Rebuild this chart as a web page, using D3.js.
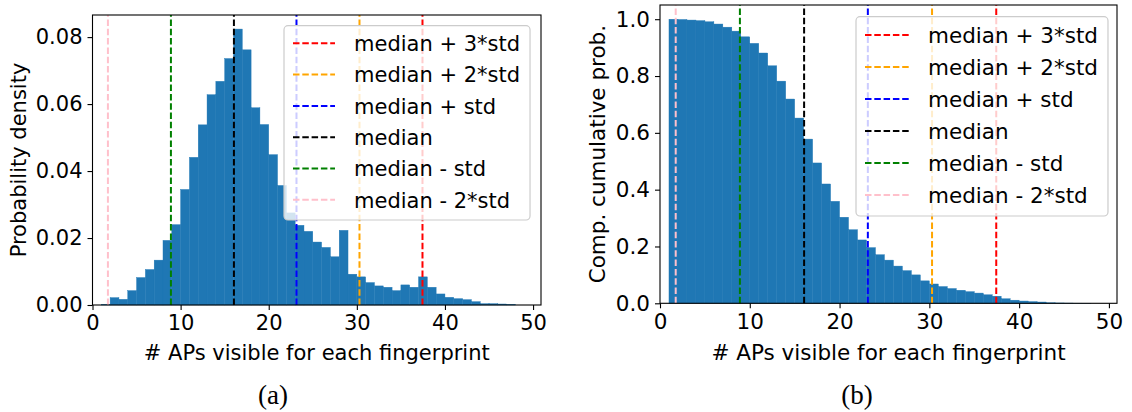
<!DOCTYPE html>
<html>
<head>
<meta charset="utf-8">
<script src="https://cdn.jsdelivr.net/npm/d3@7"></script>
<style>
  html, body { margin: 0; padding: 0; background: #fff; }
  svg { display: block; }
  text { font-family: "DejaVu Sans", sans-serif; fill: #000; }
  text.caption { font-family: "Liberation Serif", "DejaVu Serif", serif; }
</style>
</head>
<body>
<svg id="fig" width="1132" height="412"></svg>
<script>
// Histogram bins: bin k covers [k, k+1) access points
const binStarts = d3.range(1, 48);

// (a) probability density per bin
const densityValues = [
  0.0002, 0.0022, 0.0017, 0.0043, 0.0082, 0.0106, 0.0134, 0.0193, 0.0240, 0.0345,
  0.0441, 0.0538, 0.0628, 0.0668, 0.0736, 0.0824, 0.0762, 0.0589, 0.0539, 0.0449,
  0.0357, 0.0275, 0.0238, 0.0220, 0.0188, 0.0172, 0.0144, 0.0223, 0.0092, 0.0084,
  0.0067, 0.0057, 0.0053, 0.0043, 0.0060, 0.0053, 0.0084, 0.0053, 0.0033, 0.0023,
  0.0019, 0.0016, 0.0010, 0.0004, 0.0004, 0.0003, 0.0002
];

// (b) complementary cumulative probability per bin
const ccdfValues = [
  1.000, 0.999, 0.997, 0.995, 0.991, 0.983, 0.972, 0.958, 0.938, 0.915,
  0.881, 0.836, 0.782, 0.719, 0.652, 0.578, 0.494, 0.420, 0.359, 0.303,
  0.259, 0.223, 0.196, 0.171, 0.152, 0.131, 0.115, 0.100, 0.079, 0.068,
  0.059, 0.052, 0.046, 0.041, 0.036, 0.030, 0.025, 0.016, 0.011, 0.008,
  0.006, 0.0045, 0.002, 0.0012, 0.0008, 0.0004, 0.0002
];

// Reference lines (median and multiples of the standard deviation)
const refLabels = ["median + 3*std", "median + 2*std", "median + std", "median", "median - std", "median - 2*std"];
const refValues = [37.45, 30.3, 23.15, 16.05, 8.9, 1.75];
const refColors = ["red", "orange", "blue", "black", "green", "pink"];

const xTicks = [0, 10, 20, 30, 40, 50];
const yTicksA = [0, 0.02, 0.04, 0.06, 0.08];
const yTicksB = [0, 0.2, 0.4, 0.6, 0.8, 1.0];

const xLabel = "# APs visible for each fingerprint";
const barColor = "#1f77b4";

const svg = d3.select("#fig");

function panel(cfg) {
  const g = svg.append("g");
  const fs = cfg.fontSize;

  const x = d3.scaleLinear().domain([0, 50.9]).range([cfg.left, cfg.right]);
  const y = d3.scaleLinear().domain([0, cfg.yMax]).range([cfg.bottom, cfg.top]);

  // histogram bars
  g.append("g").selectAll("rect")
    .data(cfg.values.map((v, i) => ({ x0: binStarts[i], v })))
    .join("rect")
    .attr("x", d => x(d.x0))
    .attr("width", d => x(d.x0 + 1) - x(d.x0))
    .attr("y", d => y(d.v))
    .attr("height", d => y(0) - y(d.v))
    .attr("fill", barColor)
    .attr("stroke", barColor)
    .attr("stroke-width", 0.4);

  // dashed reference lines spanning the full plot height
  g.append("g").selectAll("line")
    .data(refValues.map((v, i) => ({ v, c: refColors[i] })))
    .join("line")
    .attr("x1", d => x(d.v)).attr("x2", d => x(d.v))
    .attr("y1", cfg.bottom).attr("y2", cfg.top)
    .attr("stroke", d => d.c)
    .attr("stroke-width", 2)
    .attr("stroke-dasharray", "6.5,2.8");

  // axes
  const xAxis = g.append("g")
    .attr("transform", `translate(0,${cfg.bottom})`)
    .call(d3.axisBottom(x).tickValues(xTicks).tickFormat(d3.format("d")).tickSize(5).tickPadding(5));
  const yAxis = g.append("g")
    .attr("transform", `translate(${cfg.left},0)`)
    .call(d3.axisLeft(y).tickValues(cfg.yTicks).tickFormat(d3.format(cfg.yFormat)).tickSize(5).tickPadding(5));
  [xAxis, yAxis].forEach(a => {
    a.select(".domain").remove();
    a.selectAll("line").attr("stroke", "#000").attr("stroke-width", 1.1);
    a.selectAll("text").attr("font-family", "DejaVu Sans").attr("font-size", fs).attr("fill", "#000");
  });

  // frame
  g.append("rect")
    .attr("x", cfg.left).attr("y", cfg.top)
    .attr("width", cfg.right - cfg.left).attr("height", cfg.bottom - cfg.top)
    .attr("fill", "none").attr("stroke", "#000").attr("stroke-width", 1.1);

  // axis titles
  g.append("text")
    .attr("x", (cfg.left + cfg.right) / 2).attr("y", cfg.xLabelY)
    .attr("text-anchor", "middle").attr("font-size", fs)
    .text(xLabel);
  g.append("text")
    .attr("transform", `translate(${cfg.yLabelX},${(cfg.top + cfg.bottom) / 2}) rotate(-90)`)
    .attr("text-anchor", "middle").attr("dy", "0.35em").attr("font-size", fs)
    .text(cfg.yLabel);

  // legend
  const lg = g.append("g");
  const box = lg.append("rect")
    .attr("fill", "#fff").attr("fill-opacity", 0.8)
    .attr("stroke", "#cccccc").attr("stroke-width", 1.2)
    .attr("rx", 4).attr("ry", 4);
  const rows = lg.selectAll("g.row")
    .data(refLabels.map((t, i) => ({ t, c: refColors[i], i })))
    .join("g").attr("class", "row")
    .attr("transform", d => `translate(0,${cfg.legTop + cfg.legFirst + d.i * cfg.legStep})`);
  rows.append("line")
    .attr("x1", cfg.legLeft + 9).attr("x2", cfg.legLeft + 9 + cfg.sampleLen)
    .attr("stroke", d => d.c).attr("stroke-width", 2)
    .attr("stroke-dasharray", "6.5,2.8");
  const texts = rows.append("text")
    .attr("x", cfg.legLeft + 9 + cfg.sampleLen + cfg.textGap)
    .attr("dy", "0.37em").attr("font-size", fs)
    .text(d => d.t);
  let maxW = 0;
  texts.each(function () { maxW = Math.max(maxW, this.getComputedTextLength()); });
  const legW = 9 + cfg.sampleLen + cfg.textGap + maxW + 10;
  box.attr("x", cfg.legLeft).attr("y", cfg.legTop)
    .attr("width", legW).attr("height", cfg.legHeight);

  // panel caption
  g.append("text")
    .attr("class", "caption")
    .attr("x", cfg.capX).attr("y", 404)
    .attr("text-anchor", "middle")
    .attr("font-size", 27)
    .text(cfg.caption);
}

panel({
  values: densityValues, yMax: 0.0866, yTicks: yTicksA, yFormat: ".2f",
  left: 92.5, right: 541, top: 15, bottom: 305,
  fontSize: 21, yLabel: "Probability density", yLabelX: 19, xLabelY: 360,
  legLeft: 284, legTop: 25.7, legFirst: 17.6, legStep: 31.3, legHeight: 194.3,
  sampleLen: 42, textGap: 19, capX: 273, caption: "(a)"
});

panel({
  values: ccdfValues, yMax: 1.05, yTicks: yTicksB, yFormat: ".1f",
  left: 660, right: 1117, top: 5, bottom: 303.3,
  fontSize: 21.5, yLabel: "Comp. cumulative prob.", yLabelX: 597, xLabelY: 360,
  legLeft: 856, legTop: 16.7, legFirst: 18.3, legStep: 32, legHeight: 199.3,
  sampleLen: 44, textGap: 19, capX: 857, caption: "(b)"
});
</script>
</body>
</html>
